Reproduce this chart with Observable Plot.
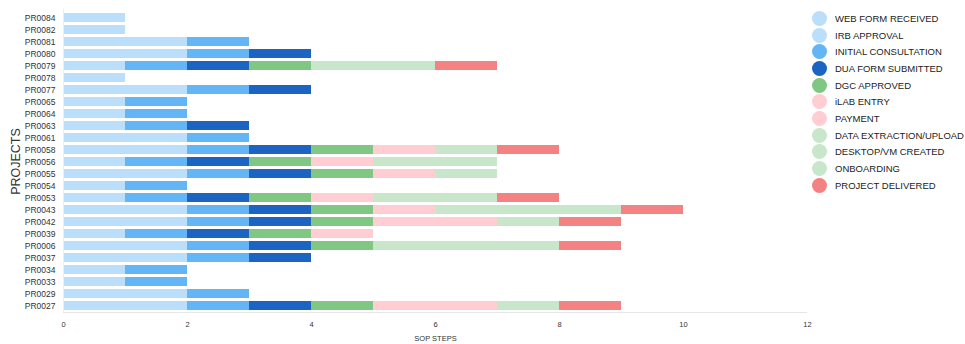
<!DOCTYPE html>
<html><head><meta charset="utf-8">
<script src="https://cdn.jsdelivr.net/npm/d3@7"></script>
<script src="https://cdn.jsdelivr.net/npm/@observablehq/plot@0.6"></script>
<style>
html,body{margin:0;padding:0;background:#fff;}
#wrap{position:relative;width:965px;height:344px;font-family:"Liberation Sans",Arial,sans-serif;}
#legend{position:absolute;left:812px;top:10px;}
.li{display:flex;align-items:center;height:16.7px;font-size:9.5px;color:#222;white-space:nowrap;}
.sw{width:15px;height:15px;border-radius:50%;margin-right:8px;flex:none;}
</style></head>
<body><div id="wrap"><div id="chart"></div><div id="legend"></div></div>
<script>
const projects = ["PR0084","PR0082","PR0081","PR0080","PR0079","PR0078","PR0077","PR0065","PR0064","PR0063","PR0061","PR0058","PR0056","PR0055","PR0054","PR0053","PR0043","PR0042","PR0039","PR0006","PR0037","PR0034","PR0033","PR0029","PR0027"];
const steps = ["WEB FORM RECEIVED","IRB APPROVAL","INITIAL CONSULTATION","DUA FORM SUBMITTED","DGC APPROVED","iLAB ENTRY","PAYMENT","DATA EXTRACTION/UPLOAD","DESKTOP/VM CREATED","ONBOARDING","PROJECT DELIVERED"];
const stepColors = ["#bbdefb","#bbdefb","#64b5f6","#1b64c2","#81c784","#ffcdd2","#ffcdd2","#c8e6c9","#c8e6c9","#c8e6c9","#f48282"];
// duration of each step for each project (same order as projects)
const webForm   = [1,1,1,1,1,1,1,1,1,1,1,1,1,1,1,1,1,1,1,1,1,1,1,1,1];
const irb       = [0,0,1,1,0,0,1,0,0,0,1,1,0,1,0,0,1,1,0,1,1,0,0,1,1];
const initCons  = [0,0,1,1,1,0,1,1,1,1,1,1,1,1,1,1,1,1,1,1,1,1,1,1,1];
const duaForm   = [0,0,0,1,1,0,1,0,0,1,0,1,1,1,0,1,1,1,1,1,1,0,0,0,1];
const dgc       = [0,0,0,0,1,0,0,0,0,0,0,1,1,1,0,1,1,1,1,1,0,0,0,0,1];
const ilab      = [0,0,0,0,0,0,0,0,0,0,0,1,1,1,0,1,1,1,1,0,0,0,0,0,1];
const payment   = [0,0,0,0,0,0,0,0,0,0,0,0,0,0,0,0,0,1,0,0,0,0,0,0,1];
const dataExtr  = [0,0,0,0,1,0,0,0,0,0,0,1,1,1,0,1,1,1,0,1,0,0,0,0,1];
const desktop   = [0,0,0,0,1,0,0,0,0,0,0,0,1,0,0,1,1,0,0,1,0,0,0,0,0];
const onboard   = [0,0,0,0,0,0,0,0,0,0,0,0,0,0,0,0,1,0,0,1,0,0,0,0,0];
const delivered = [0,0,0,0,1,0,0,0,0,0,0,1,0,0,0,1,1,1,0,1,0,0,0,0,1];
const xTicks = [0,2,4,6,8,10,12];

const series = [webForm,irb,initCons,duaForm,dgc,ilab,payment,dataExtr,desktop,onboard,delivered];
const data = [];
series.forEach((vals, si) => vals.forEach((v, pi) => { if (v > 0) data.push({project: projects[pi], step: steps[si], value: v}); }));

const chart = Plot.plot({
  width: 965, height: 344,
  marginLeft: 63, marginRight: 158, marginTop: 9, marginBottom: 31,
  style: {fontFamily: "Liberation Sans, Arial, sans-serif", color: "#333"},
  x: {domain: [0, 12]},
  y: {domain: projects, paddingInner: 0.28, paddingOuter: 0.13},
  color: {domain: steps, range: stepColors},
  marks: [
    Plot.barX(data, Plot.stackX({x: "value", y: "project", fill: "step", order: steps})),
    Plot.ruleX([0], {stroke: "#eee"}),
    Plot.ruleY([projects[projects.length-1]], {stroke: "#e6e6e6", dy: 6.5}),
    Plot.axisY({tickSize: 0, tickPadding: 8, fontSize: 8.5, label: "PROJECTS", labelAnchor: "center", labelOffset: 52, labelArrow: "none"}),
    Plot.axisX({ticks: xTicks, tickSize: 0, tickPadding: 8, fontSize: 7.5, label: "SOP STEPS", labelAnchor: "center", labelOffset: 27, labelArrow: "none"})
  ]
});
document.getElementById("chart").appendChild(chart);
chart.querySelectorAll("[aria-label='y-axis label'] text").forEach(t => t.setAttribute("font-size", 12.5));
chart.querySelectorAll("[aria-label='x-axis label'] text").forEach(t => t.setAttribute("font-size", 7.5));

const legend = document.getElementById("legend");
steps.forEach((s, i) => {
  const d = document.createElement("div"); d.className = "li";
  d.innerHTML = `<span class="sw" style="background:${stepColors[i]}"></span><span></span>`;
  d.lastChild.textContent = s;
  legend.appendChild(d);
});
</script></body></html>
